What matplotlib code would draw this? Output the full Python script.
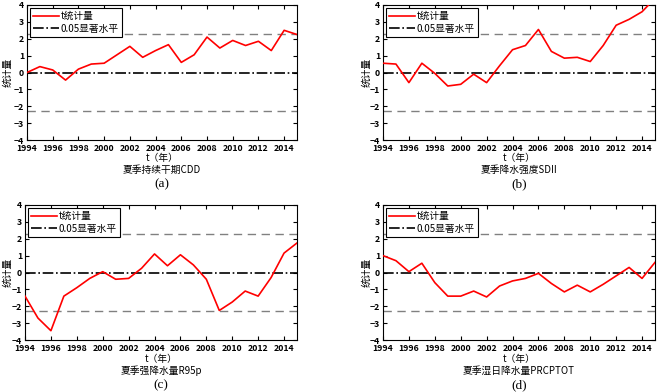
import numpy as np
import matplotlib
matplotlib.use('Agg')
from matplotlib import pyplot as plt

plt.rcParams['font.family'] = ['Noto Sans CJK SC', 'DejaVu Sans']

years = list(range(1994, 2016))

cdd = [0.0, 0.35, 0.15, -0.45, 0.2, 0.5, 0.55, 1.05, 1.55, 0.9, 1.3,
       1.65, 0.6, 1.05, 2.1, 1.45, 1.9, 1.6, 1.85, 1.3, 2.5, 2.25]
sdii = [0.55, 0.5, -0.6, 0.55, -0.05, -0.8, -0.7, -0.1, -0.6, 0.4, 1.35,
        1.6, 2.55, 1.25, 0.85, 0.9, 0.65, 1.6, 2.8, 3.15, 3.6, 4.4]
r95p = [-1.4, -2.7, -3.45, -1.4, -0.9, -0.35, 0.05, -0.4, -0.35, 0.25, 1.1,
        0.4, 1.05, 0.45, -0.4, -2.25, -1.75, -1.1, -1.4, -0.3, 1.15, 1.75]
prcptot = [1.0, 0.7, 0.05, 0.55, -0.6, -1.4, -1.4, -1.1, -1.45, -0.8, -0.5,
           -0.35, -0.05, -0.65, -1.15, -0.75, -1.15, -0.7, -0.2, 0.3, -0.35, 0.6]

series = [cdd, sdii, r95p, prcptot]
titles = ['夏季持续干期CDD', '夏季降水强度SDII', '夏季强降水量R95p', '夏季湿日降水量PRCPTOT']
letters = ['(a)', '(b)', '(c)', '(d)']
sig = 2.3

W, H = 661, 392
# pixel boxes: left, top, right, bottom
boxes = [(27, 5, 297, 140), (383, 5, 655, 140),
         (25, 205, 297, 340), (383, 205, 655, 340)]
# pixel y of xlabel, subtitle, letter and x of ylabel
text_pos = [(158, 170, 184, 7), (158, 170, 184, 366),
            (359, 371, 385, 7), (359, 371, 385, 366)]

fig = plt.figure(figsize=(W/100, H/100), dpi=100)

def fy(py):
	return (H - py) / H

for vals, title, letter, (l, t, r, b), (yx, ys, yl, xy) in zip(series, titles, letters, boxes, text_pos):
	ax = fig.add_axes([l/W, (H-b)/H, (r-l)/W, (b-t)/H])
	ax.plot(years, vals, color='red', lw=1.2, label='t统计量', zorder=3)
	ax.axhline(0, color='black', ls='-.', lw=1.2, label='0.05显著水平')
	ax.axhline(sig, color='gray', ls=(0, (6, 4)), lw=1.0)
	ax.axhline(-sig, color='gray', ls=(0, (6, 4)), lw=1.0)
	ax.set_xlim(1994, 2015)
	ax.set_ylim(-4, 4)
	ax.set_xticks(range(1994, 2015, 2))
	ax.set_yticks(range(-4, 5))
	ax.tick_params(direction='in', top=True, right=True, labelsize=6.3, length=3)
	ax.tick_params(axis='x', pad=3)
	ax.tick_params(axis='y', pad=2)
	for lab in ax.get_xticklabels() + ax.get_yticklabels():
		lab.set_fontweight('bold')
	leg = ax.legend(loc='upper left', fontsize=7, frameon=True, fancybox=False,
	                borderpad=0.3, handlelength=2.6, handletextpad=0.2,
	                labelspacing=0.25, borderaxespad=0.35)
	leg.get_frame().set_edgecolor('black')
	leg.get_frame().set_linewidth(0.8)
	leg.get_frame().set_alpha(1)
	cx = (l + r) / 2 / W
	fig.text(cx, fy(yx), 't（年）', ha='center', va='center', fontsize=7)
	fig.text(xy/W, ((H - t) + (H - b)) / 2 / H, '统计量', ha='center', va='center',
	         fontsize=7, rotation=90)
	fig.text(cx, fy(ys), title, ha='center', va='center', fontsize=7)
	fig.text(cx, fy(yl), letter, ha='center', va='center', fontsize=9.5,
	         family='Liberation Serif')

fig.savefig('out.png', dpi=100)
